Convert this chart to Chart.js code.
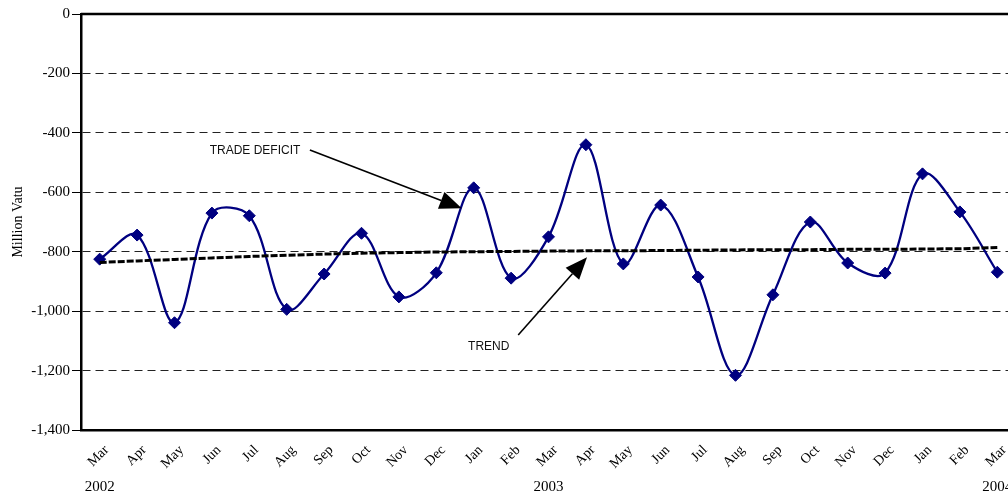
<!DOCTYPE html>
<html>
<head>
<meta charset="utf-8">
<script src="https://cdn.jsdelivr.net/npm/chart.js@4.4.1/dist/chart.umd.min.js"></script>
<style>
html, body { margin: 0; padding: 0; background: #fff; }
#wrap { width: 1008px; height: 498px; overflow: hidden; }
</style>
</head>
<body>
<div id="wrap"><canvas id="myChart" width="1023" height="498"></canvas></div>
<script>
// months from Mar 2002 to Mar 2004
const months = ['Mar','Apr','May','Jun','Jul','Aug','Sep','Oct','Nov','Dec',
                'Jan','Feb','Mar','Apr','May','Jun','Jul','Aug','Sep','Oct','Nov','Dec',
                'Jan','Feb','Mar'];
const yearIndex = [0, 12, 24];
const yearText = ['2002', '2003', '2004'];

// million vatu
const deficit = [-825, -744, -1039, -670, -679, -994, -875, -738, -952, -871,
                 -585, -889, -750, -440, -841, -643, -885, -1216, -945, -700, -838, -872,
                 -538, -666, -869];
const trend = [-836, -831, -826, -821, -816, -812, -808, -805, -803, -801,
               -800, -799, -798, -797, -797, -796, -795, -794, -793, -793, -792, -792,
               -791, -790, -786];

const yTicks = [0, -200, -400, -600, -800, -1000, -1200, -1400];

// annotation labels: [x index, value] and arrows: [from idx, from val, to idx, to val]
const labelText = ['TRADE DEFICIT', 'TREND'];
const labelPos = [[2.94, -472], [9.85, -1130]];
const arrows = [[5.62, -458, 9.68, -654], [11.19, -1080, 13.03, -819]];

function drawArrow(ctx, x1, y1, x2, y2) {
    const ang = Math.atan2(y2 - y1, x2 - x1);
    const len = 22, half = 9;
    const bx = x2 - Math.cos(ang) * len, by = y2 - Math.sin(ang) * len;
    ctx.beginPath();
    ctx.moveTo(x1, y1);
    ctx.lineTo(bx, by);
    ctx.stroke();
    ctx.beginPath();
    ctx.moveTo(x2, y2);
    ctx.lineTo(bx + Math.sin(ang) * half, by - Math.cos(ang) * half);
    ctx.lineTo(bx - Math.sin(ang) * half, by + Math.cos(ang) * half);
    ctx.closePath();
    ctx.fill();
}

const extras = {
    id: 'extras',
    afterDatasetsDraw(chart) {
        const ctx = chart.ctx, xs = chart.scales.x, ys = chart.scales.y, a = chart.chartArea;
        ctx.save();
        // top frame line
        ctx.strokeStyle = '#000';
        ctx.lineWidth = 2.5;
        ctx.beginPath();
        ctx.moveTo(a.left, a.top);
        ctx.lineTo(a.right, a.top);
        ctx.stroke();
        // annotations
        ctx.fillStyle = '#111';
        ctx.strokeStyle = '#000';
        ctx.lineWidth = 1.6;
        ctx.font = '12px "Liberation Sans", Arial, sans-serif';
        ctx.textAlign = 'left';
        ctx.textBaseline = 'alphabetic';
        for (let i = 0; i < labelText.length; i++) {
            ctx.fillText(labelText[i], xs.getPixelForValue(labelPos[i][0]), ys.getPixelForValue(labelPos[i][1]));
        }
        ctx.fillStyle = '#000';
        arrows.forEach(r => {
            drawArrow(ctx, xs.getPixelForValue(r[0]), ys.getPixelForValue(r[1]),
                      xs.getPixelForValue(r[2]), ys.getPixelForValue(r[3]));
        });
        ctx.restore();
    },
    afterDraw(chart) {
        const ctx = chart.ctx, xs = chart.scales.x;
        ctx.save();
        ctx.fillStyle = '#000';
        ctx.font = '15px "Liberation Serif", "Times New Roman", serif';
        ctx.textAlign = 'center';
        ctx.textBaseline = 'alphabetic';
        for (let i = 0; i < yearIndex.length; i++) {
            ctx.fillText(yearText[i], xs.getPixelForValue(yearIndex[i]), 491);
        }
        ctx.restore();
    }
};

const ctx = document.getElementById('myChart').getContext('2d');
const chart = new Chart(ctx, {
    type: 'line',
    data: {
        labels: months,
        datasets: [{
            label: 'TREND',
            data: trend,
            borderColor: '#000',
            borderWidth: 3,
            borderDash: [7, 2],
            pointRadius: 0,
            tension: 0,
            order: 0
        }, {
            label: 'TRADE DEFICIT',
            data: deficit,
            borderColor: '#000080',
            backgroundColor: '#000080',
            borderWidth: 2.3,
            pointStyle: 'rectRot',
            pointRadius: 6,
            pointBackgroundColor: '#000080',
            pointBorderColor: '#000080',
            pointBorderWidth: 1,
            tension: 0.35,
            order: 1
        }]
    },
    options: {
        responsive: false,
        animation: false,
        devicePixelRatio: 1,
        layout: { padding: { top: 14, right: 0, bottom: 0, left: 0 } },
        plugins: { legend: { display: false }, tooltip: { enabled: false } },
        scales: {
            x: {
                offset: true,
                grid: { display: false },
                border: { display: true, color: '#000', width: 2.5 },
                ticks: {
                    autoSkip: false, maxRotation: 45, minRotation: 45,
                    color: '#000', labelOffset: 7, padding: 4,
                    font: { family: '"Liberation Serif", "Times New Roman", serif', size: 14 }
                },
                afterFit(scale) { scale.height = 68; }
            },
            y: {
                min: -1400, max: 0,
                afterBuildTicks(scale) { scale.ticks = yTicks.map(v => ({ value: v })); },
                grid: {
                    color: c => (c.tick && (c.tick.value === 0 || c.tick.value === -1400)) ? 'rgba(0,0,0,0)' : '#222',
                    lineWidth: 1,
                    tickLength: 9,
                    tickColor: '#000',
                    tickWidth: 1
                },
                border: { display: true, color: '#000', width: 2.5, dash: [8, 5] },
                ticks: {
                    color: '#000', padding: 2,
                    font: { family: '"Liberation Serif", "Times New Roman", serif', size: 15 },
                    callback: v => v.toLocaleString('en-US')
                },
                title: {
                    display: true, text: 'Million Vatu', color: '#000',
                    padding: { top: 10, bottom: 0 },
                    font: { family: '"Liberation Serif", "Times New Roman", serif', size: 14 }
                },
                afterFit(scale) { scale.width = 81; }
            }
        }
    },
    plugins: [extras]
});
</script>
</body>
</html>
